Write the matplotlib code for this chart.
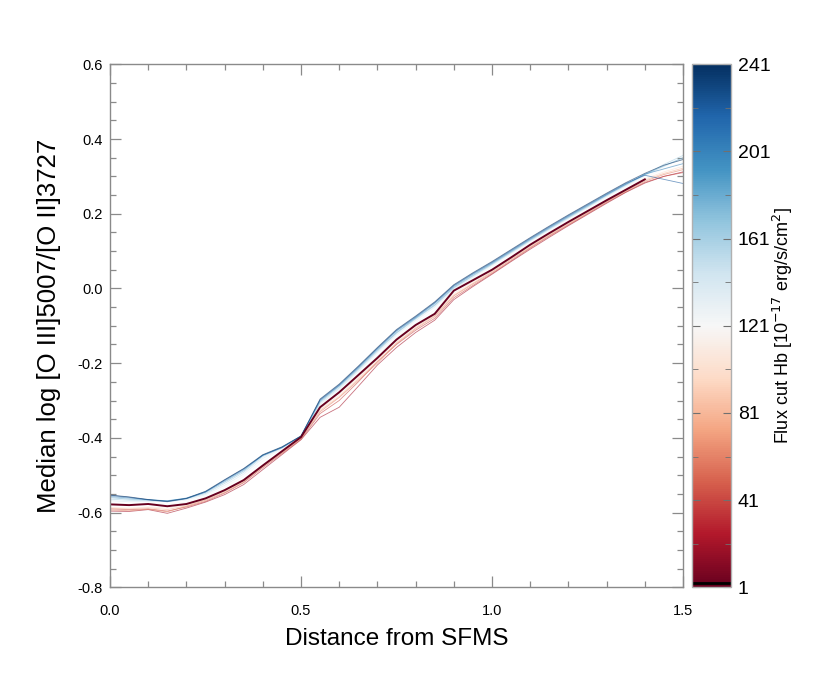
import numpy as np
import matplotlib
matplotlib.use("Agg")
import matplotlib.pyplot as plt
from matplotlib.colors import Normalize
from matplotlib.cm import ScalarMappable
from matplotlib.ticker import MultipleLocator, FixedLocator

plt.rcParams['font.family'] = ['Liberation Sans', 'DejaVu Sans']

# ---------------- data ----------------
distance = [0.00, 0.05, 0.10, 0.15, 0.20, 0.25, 0.30, 0.35, 0.40, 0.45,
            0.50, 0.55, 0.60, 0.65, 0.70, 0.75, 0.80, 0.85, 0.90, 0.95,
            1.00, 1.05, 1.10, 1.15, 1.20, 1.25, 1.30, 1.35, 1.40, 1.45, 1.50]

flux_cuts = [21, 41, 61, 81, 101, 121, 141, 161, 181, 201, 221, 241]

ratio_21 = [-0.596, -0.597, -0.592, -0.602, -0.588, -0.572, -0.552, -0.525, -0.485, -0.445,
            -0.405, -0.345, -0.318, -0.262, -0.205, -0.158, -0.118, -0.085, -0.030, 0.005,
            0.038, 0.072, 0.105, 0.137, 0.168, 0.198, 0.228, 0.257, 0.282, 0.300, 0.312]
ratio_41 = [-0.590, -0.592, -0.590, -0.596, -0.585, -0.570, -0.548, -0.520, -0.480, -0.442,
            -0.404, -0.335, -0.300, -0.250, -0.196, -0.150, -0.112, -0.080, -0.025, 0.008,
            0.040, 0.074, 0.108, 0.140, 0.170, 0.200, 0.230, 0.258, 0.284, 0.300, 0.310]
ratio_61 = [-0.593, -0.595, -0.591, -0.598, -0.583, -0.567, -0.546, -0.518, -0.476, -0.440,
            -0.402, -0.330, -0.292, -0.246, -0.200, -0.148, -0.108, -0.075, -0.020, 0.012,
            0.043, 0.077, 0.110, 0.142, 0.172, 0.202, 0.232, 0.260, 0.287, 0.305, 0.318]
ratio_81 = [-0.588, -0.590, -0.587, -0.592, -0.582, -0.565, -0.543, -0.515, -0.478, -0.438,
            -0.400, -0.326, -0.290, -0.242, -0.195, -0.145, -0.105, -0.072, -0.018, 0.014,
            0.046, 0.080, 0.112, 0.144, 0.174, 0.204, 0.234, 0.262, 0.290, 0.308, 0.322]
ratio_101 = [-0.586, -0.588, -0.585, -0.588, -0.579, -0.563, -0.540, -0.512, -0.473, -0.435,
             -0.398, -0.322, -0.286, -0.238, -0.190, -0.140, -0.100, -0.068, -0.014, 0.018,
             0.050, 0.083, 0.115, 0.147, 0.177, 0.207, 0.237, 0.265, 0.293, 0.312, 0.327]
ratio_121 = [-0.575, -0.577, -0.575, -0.578, -0.572, -0.556, -0.533, -0.503, -0.462, -0.430,
             -0.396, -0.315, -0.276, -0.228, -0.180, -0.130, -0.092, -0.058, -0.006, 0.026,
             0.058, 0.090, 0.122, 0.153, 0.183, 0.212, 0.242, 0.270, 0.297, 0.320, 0.338]
ratio_141 = [-0.568, -0.571, -0.570, -0.571, -0.566, -0.552, -0.527, -0.497, -0.455, -0.428,
             -0.396, -0.310, -0.270, -0.222, -0.172, -0.124, -0.086, -0.050, -0.002, 0.030,
             0.062, 0.094, 0.126, 0.157, 0.187, 0.216, 0.246, 0.274, 0.302, 0.326, 0.348]
ratio_161 = [-0.564, -0.567, -0.568, -0.569, -0.563, -0.549, -0.522, -0.492, -0.450, -0.427,
             -0.396, -0.306, -0.266, -0.218, -0.168, -0.120, -0.082, -0.046, 0.001, 0.033,
             0.064, 0.096, 0.128, 0.159, 0.189, 0.218, 0.248, 0.276, 0.304, 0.332, 0.356]
ratio_181 = [-0.560, -0.564, -0.566, -0.568, -0.562, -0.546, -0.518, -0.488, -0.447, -0.426,
             -0.395, -0.303, -0.262, -0.215, -0.165, -0.118, -0.080, -0.044, 0.003, 0.035,
             0.066, 0.098, 0.130, 0.161, 0.191, 0.220, 0.250, 0.278, 0.305, 0.328, 0.350]
ratio_201 = [-0.557, -0.561, -0.565, -0.569, -0.561, -0.544, -0.515, -0.485, -0.446, -0.425,
             -0.395, -0.300, -0.260, -0.212, -0.162, -0.114, -0.078, -0.040, 0.006, 0.038,
             0.068, 0.100, 0.132, 0.163, 0.193, 0.222, 0.251, 0.279, 0.306, 0.320, 0.334]
ratio_221 = [-0.554, -0.559, -0.566, -0.571, -0.563, -0.545, -0.513, -0.483, -0.447, -0.426,
             -0.396, -0.298, -0.258, -0.210, -0.160, -0.112, -0.076, -0.038, 0.008, 0.040,
             0.070, 0.102, 0.134, 0.165, 0.195, 0.224, 0.253, 0.281, 0.303, 0.292, 0.281]
ratio_241 = [-0.553, -0.558, -0.565, -0.570, -0.562, -0.543, -0.512, -0.482, -0.445, -0.424,
             -0.395, -0.296, -0.256, -0.208, -0.158, -0.110, -0.074, -0.036, 0.010, 0.042,
             0.072, 0.104, 0.136, 0.167, 0.197, 0.226, 0.255, 0.283, 0.308, 0.330, 0.345]

# highlighted flux cut = 1
ratio_1 = [-0.578, -0.580, -0.577, -0.583, -0.577, -0.562, -0.540, -0.513, -0.474, -0.436,
           -0.398, -0.318, -0.278, -0.232, -0.186, -0.137, -0.098, -0.068, -0.006, 0.022,
           0.050, 0.083, 0.117, 0.148, 0.178, 0.207, 0.236, 0.264, 0.292, np.nan, np.nan]

series = [ratio_21, ratio_41, ratio_61, ratio_81, ratio_101, ratio_121,
          ratio_141, ratio_161, ratio_181, ratio_201, ratio_221, ratio_241]

cbar_ticks = [1, 41, 81, 121, 161, 201, 241]
cbar_minor = [21, 61, 101, 141, 181, 221]

# ---------------- figure ----------------
W, H = 830, 678
fig = plt.figure(figsize=(W / 100, H / 100), dpi=100)

ax_l, ax_r, ax_t, ax_b = 110, 683, 64.3, 587.3
ax = fig.add_axes([ax_l / W, 1 - ax_b / H, (ax_r - ax_l) / W, (ax_b - ax_t) / H])

cmap = plt.get_cmap('RdBu')
norm = Normalize(vmin=1, vmax=241)

for fc, vals in zip(flux_cuts, series):
    ax.plot(distance, vals, color=cmap(norm(fc)), lw=0.6, alpha=0.6)
ax.plot(distance, ratio_1, color=cmap(norm(1)), lw=1.4)

ax.set_xlim(0, 1.5)
ax.set_ylim(-0.8, 0.6)
ax.xaxis.set_major_locator(MultipleLocator(0.5))
ax.xaxis.set_minor_locator(MultipleLocator(0.1))
ax.yaxis.set_major_locator(MultipleLocator(0.2))
ax.yaxis.set_minor_locator(MultipleLocator(0.05))
ax.xaxis.set_major_formatter(matplotlib.ticker.FormatStrFormatter('%.1f'))
ax.yaxis.set_major_formatter(matplotlib.ticker.FormatStrFormatter('%.1f'))

axis_gray = '#8a8a8a'
for s in ax.spines.values():
    s.set_color(axis_gray)
    s.set_linewidth(1.0)
ax.tick_params(which='both', direction='in', top=True, right=True, colors=axis_gray,
               labelcolor='black', width=0.9)
ax.tick_params(which='major', length=8, labelsize=10.5)
ax.tick_params(which='minor', length=4)
ax.tick_params(axis='x', which='major', pad=12)
ax.tick_params(axis='y', which='major', pad=5)

ax.set_xlabel('Distance from SFMS', fontsize=17.5, labelpad=7)
ax.set_ylabel('Median log [O III]5007/[O II]3727', fontsize=18.5, labelpad=12)

# ---------------- colorbar ----------------
cb_l, cb_r = 692, 731
cax = fig.add_axes([cb_l / W, 1 - ax_b / H, (cb_r - cb_l) / W, (ax_b - ax_t) / H])
sm = ScalarMappable(norm=norm, cmap=cmap)
cb = fig.colorbar(sm, cax=cax)
cb.outline.set_edgecolor('#b0b0b0')
cb.outline.set_linewidth(1.0)
cax.yaxis.set_major_locator(FixedLocator(cbar_ticks))
cax.yaxis.set_minor_locator(FixedLocator(cbar_minor))
cax.tick_params(which='both', direction='in', left=True, right=True, colors='#707070',
                labelcolor='black')
cax.tick_params(which='major', length=6, labelsize=14, pad=5)
cax.tick_params(which='minor', length=4)
cax.axhline(3, color='black', lw=2)
cb.set_label(r'Flux cut Hb [10$^{-17}$ erg/s/cm$^{2}$]', fontsize=13, labelpad=0)

fig.savefig('out.png', dpi=100)
